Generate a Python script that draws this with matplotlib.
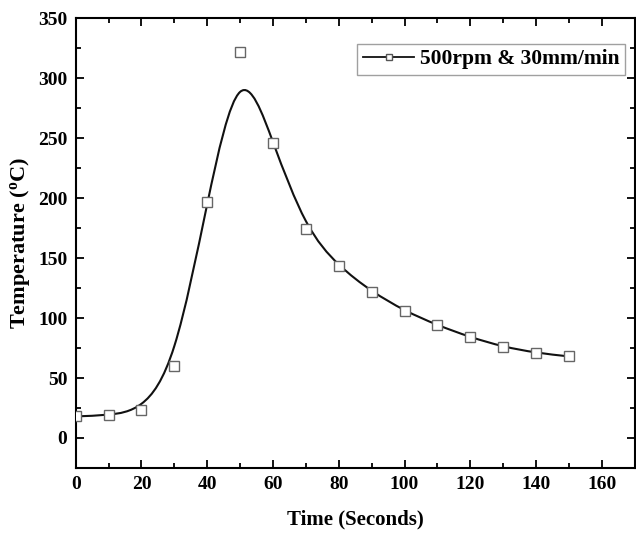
import matplotlib.pyplot as plt
import numpy as np
from matplotlib.path import Path
from matplotlib.patches import PathPatch
from matplotlib.lines import Line2D

# temperature vs time, 500rpm & 30mm/min
time_s = [0, 10, 20, 30, 40, 50, 60, 70, 80, 90, 100, 110, 120, 130, 140, 150]
temp_c = [18, 19, 23, 60, 197, 322, 246, 174, 143, 122, 106, 94, 84, 76, 71, 68]
label = '500rpm & 30mm/min'

plt.rcParams['font.family'] = ['Liberation Serif', 'DejaVu Serif']
plt.rcParams['font.weight'] = 'bold'
plt.rcParams['mathtext.fontset'] = 'custom'
plt.rcParams['mathtext.rm'] = 'Liberation Serif:bold'
plt.rcParams['mathtext.it'] = 'Liberation Serif:bold'


def bspline_path(x, y):
    # uniform cubic B-spline with the data as control points (Origin style),
    # ends clamped by repeating the end points, drawn as bezier segments
    q = np.column_stack([x, y]).astype(float)
    q = np.vstack([q[:1], q[:1], q, q[-1:], q[-1:]])
    verts = []
    codes = []
    for i in range(1, len(q) - 2):
        a, b, c, d = q[i - 1], q[i], q[i + 1], q[i + 2]
        b0 = (a + 4 * b + c) / 6
        b1 = (2 * b + c) / 3
        b2 = (b + 2 * c) / 3
        b3 = (b + 4 * c + d) / 6
        if not verts:
            verts.append(b0)
            codes.append(Path.MOVETO)
        verts += [b1, b2, b3]
        codes += [Path.CURVE4] * 3
    return Path(verts, codes)


fig = plt.figure(figsize=(6.36, 5.33), dpi=100)
ax = fig.add_axes([0.119, 0.122, 0.879, 0.844])

ax.add_patch(PathPatch(bspline_path(time_s, temp_c), facecolor='none',
                       edgecolor='#111111', lw=1.5, zorder=2))
ax.plot(time_s, temp_c, ls='none', marker='s', ms=7.5, mfc='white',
        mec='#666666', mew=1.0, zorder=3)

ax.set_xlim(0, 170)
ax.set_ylim(-25, 350)
ax.set_xticks(np.arange(0, 161, 20))
ax.set_xticks(np.arange(0, 171, 10), minor=True)
ax.set_yticks(np.arange(0, 351, 50))
ax.set_yticks(np.arange(-25, 351, 25), minor=True)
ax.tick_params(which='both', direction='in', top=True, right=True,
               width=1.3, labelsize=14, pad=6)
ax.tick_params(which='major', length=6)
ax.tick_params(which='minor', length=3.5)
for s in ax.spines.values():
    s.set_linewidth(1.5)

ax.set_xlabel('Time (Seconds)', fontsize=15, fontweight='bold', labelpad=12)
ax.set_ylabel(r'Temperature ($^{\mathrm{o}}$C)', fontsize=16,
              fontweight='bold', labelpad=4)

handle = Line2D([], [], color='#111111', lw=1.3, marker='s', ms=5,
                mfc='white', mec='#555555')
ax.legend([handle], [label], loc='upper right', bbox_to_anchor=(0.99, 0.952),
          fontsize=15.5, frameon=True, fancybox=False, edgecolor='#888888',
          handlelength=2.4, borderpad=0.25, handletextpad=0.25,
          borderaxespad=0.2)

fig.savefig('out.png', dpi=100)
